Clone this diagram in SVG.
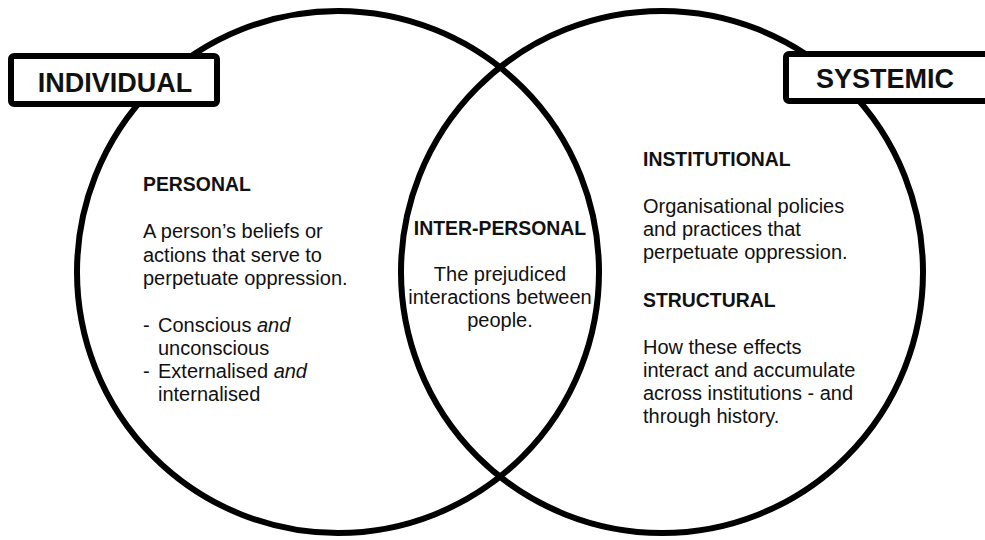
<svg xmlns="http://www.w3.org/2000/svg" width="985" height="540" viewBox="0 0 985 540">
<style>
.ring{fill:none;stroke:#000;stroke-width:6}
.box{fill:#fff;stroke:#000;stroke-width:6}
.lbl{font-family:"Liberation Sans",Arial,Helvetica,sans-serif;font-weight:bold;font-size:27px;fill:#111}
.hd{font-family:"Liberation Sans",Arial,Helvetica,sans-serif;font-weight:bold;font-size:19.4px;fill:#111}
.tx{font-family:"Liberation Sans",Arial,Helvetica,sans-serif;font-size:20px;fill:#111}
.it{font-style:italic}
</style>
<rect width="985" height="540" fill="#fff"/>
<g id="circle-individual"><circle class="ring" cx="338" cy="272" r="261"/></g>
<g id="circle-systemic"><circle class="ring" cx="662" cy="272" r="261"/></g>
<g id="connectors"></g>
<g id="label-individual">
<rect class="box" x="11" y="56" width="206" height="48" rx="3"/>
<text class="lbl" x="115" y="92" text-anchor="middle">INDIVIDUAL</text>
</g>
<g id="label-systemic">
<rect class="box" x="786" y="54" width="210" height="47" rx="3"/>
<text class="lbl" x="885" y="88" text-anchor="middle">SYSTEMIC</text>
</g>
<g id="text-personal">
<text class="hd" x="143" y="191">PERSONAL</text>
<text class="tx" x="143" y="238">A person’s beliefs or</text>
<text class="tx" x="143" y="262">actions that serve to</text>
<text class="tx" x="143" y="285">perpetuate oppression.</text>
<text class="tx" x="143" y="332">-</text>
<text class="tx" x="158" y="332">Conscious <tspan class="it">and</tspan></text>
<text class="tx" x="158" y="355">unconscious</text>
<text class="tx" x="143" y="378">-</text>
<text class="tx" x="158" y="378">Externalised <tspan class="it">and</tspan></text>
<text class="tx" x="158" y="401">internalised</text>
</g>
<g id="text-interpersonal">
<text class="hd" x="500" y="235" text-anchor="middle">INTER-PERSONAL</text>
<text class="tx" x="500" y="281" text-anchor="middle">The prejudiced</text>
<text class="tx" x="500" y="304" text-anchor="middle">interactions between</text>
<text class="tx" x="500" y="327" text-anchor="middle">people.</text>
</g>
<g id="text-institutional">
<text class="hd" x="643" y="166">INSTITUTIONAL</text>
<text class="tx" x="643" y="213">Organisational policies</text>
<text class="tx" x="643" y="236">and practices that</text>
<text class="tx" x="643" y="259">perpetuate oppression.</text>
</g>
<g id="text-structural">
<text class="hd" x="643" y="307">STRUCTURAL</text>
<text class="tx" x="643" y="354">How these effects</text>
<text class="tx" x="643" y="377">interact and accumulate</text>
<text class="tx" x="643" y="400">across institutions - and</text>
<text class="tx" x="643" y="423">through history.</text>
</g>
</svg>
